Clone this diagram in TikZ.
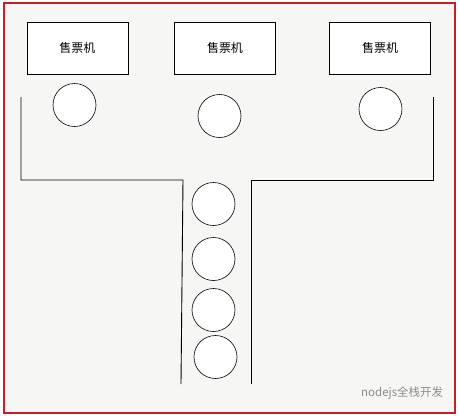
\documentclass[tikz,border=0pt]{standalone}
\usepackage{fontspec}
\newfontfamily\cjk{Noto Sans CJK SC}
\definecolor{bg}{RGB}{246,246,244}
\definecolor{frame}{RGB}{200,30,40}
\tikzset{
	machine/.style={draw, line width=0.8pt, fill=white, minimum width=101pt, minimum height=52pt, font=\cjk\fontsize{12}{12}\selectfont},
	person/.style={circle, draw, line width=0.6pt, fill=white, minimum size=43pt, inner sep=0pt},
	wall/.style={line width=0.9pt}
}
\begin{document}
\begin{tikzpicture}[x=1pt, y=-1pt]
	\useasboundingbox (0,0) rectangle (459,416);
	\fill[white] (0,0) rectangle (459,416);
	\draw[frame, line width=2pt, fill=bg] (4,3) rectangle (455,413);
	
	\node[machine] (A) at (77.5,48) {售票机};
	\node[machine] (B) at (225,48) {售票机};
	\node[machine] (C) at (380,48) {售票机};
	
	\node[person] (P1) at (74.5,105) {};
	\node[person] (P2) at (219.5,116) {};
	\node[person] (P3) at (380.5,109) {};
	
	\node[person] (Q1) at (213.5,204) {};
	\node[person] (Q2) at (213.5,259) {};
	\node[person] (Q3) at (213.5,310) {};
	\node[person] (Q4) at (215.5,357) {};
	
	\coordinate (W1) at (21,97);
	\coordinate (W2) at (21,180);
	\coordinate (W3) at (183,180);
	\coordinate (W4) at (181,384);
	\coordinate (W5) at (251,384);
	\coordinate (W6) at (251,180);
	\coordinate (W7) at (433,180);
	\coordinate (W8) at (433,97);
	\draw[wall] (W1) -- (W2) -- (W3) -- (W4);
	\draw[wall] (W5) -- (W6) -- (W7) -- (W8);
	
	\node[text=black!45, font=\cjk\fontsize{11.5}{11.5}\selectfont, anchor=west, inner sep=0pt] (T) at (361,393) {nodejs全栈开发};
	
\end{tikzpicture}
\end{document}
